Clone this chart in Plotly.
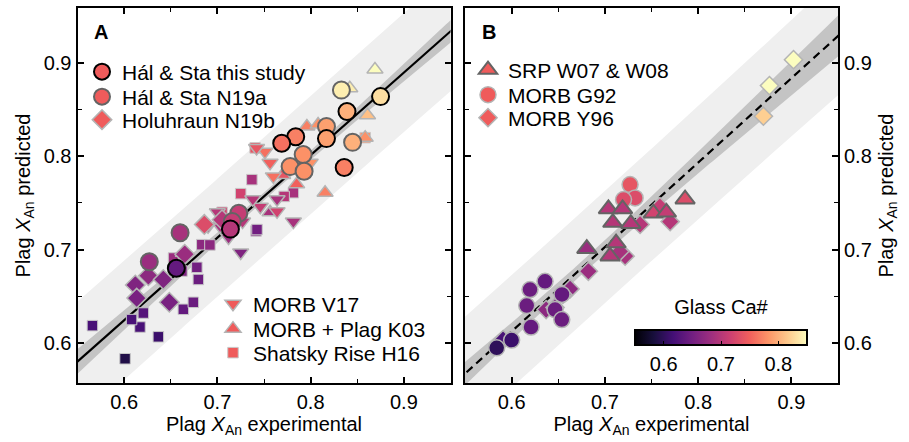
import numpy as np
import plotly.graph_objects as go

# ---------------- data ----------------
# Panel A
this_x = [0.875, 0.839, 0.817, 0.784, 0.769, 0.836, 0.714, 0.656]
this_y = [0.864, 0.848, 0.819, 0.821, 0.814, 0.788, 0.722, 0.680]
this_c = [0.83, 0.80, 0.79, 0.77, 0.76, 0.77, 0.70, 0.64]

n19a_x = [0.833, 0.817, 0.845, 0.792, 0.778, 0.793, 0.723, 0.716, 0.660, 0.627]
n19a_y = [0.871, 0.832, 0.815, 0.802, 0.789, 0.784, 0.739, 0.730, 0.718, 0.687]
n19a_c = [0.84, 0.79, 0.80, 0.78, 0.78, 0.78, 0.71, 0.71, 0.69, 0.68]

n19b_x = [0.686, 0.626, 0.612, 0.6135, 0.6485, 0.642, 0.665, 0.705]
n19b_y = [0.727, 0.672, 0.662, 0.648, 0.6435, 0.668, 0.695, 0.732]
n19b_c = [0.73, 0.67, 0.66, 0.655, 0.655, 0.66, 0.68, 0.70]

v17_x = [0.7815, 0.764, 0.746, 0.727, 0.751, 0.742, 0.7565, 0.760, 0.7995, 0.738, 0.764, 0.703, 0.725, 0.690, 0.712, 0.700]
v17_y = [0.730, 0.741, 0.746, 0.730, 0.805, 0.809, 0.793, 0.7785, 0.793, 0.754, 0.754, 0.725, 0.697, 0.725, 0.713, 0.740]
v17_c = [0.69, 0.72, 0.71, 0.70, 0.76, 0.74, 0.75, 0.76, 0.78, 0.70, 0.69, 0.69, 0.66, 0.68, 0.68, 0.70]

k03_x = [0.869, 0.842, 0.861, 0.8585, 0.8155, 0.796, 0.808, 0.7565, 0.6635, 0.770, 0.785]
k03_y = [0.893, 0.873, 0.844, 0.820, 0.761, 0.832, 0.834, 0.740, 0.6965, 0.780, 0.770]
k03_c = [0.85, 0.84, 0.81, 0.78, 0.77, 0.77, 0.78, 0.69, 0.70, 0.74, 0.75]

h16_x = [0.566, 0.601, 0.6367, 0.617, 0.6206, 0.608, 0.6635, 0.6742, 0.6796, 0.678, 0.6833, 0.692,
         0.7415, 0.653, 0.662, 0.737, 0.7405, 0.7815, 0.7716, 0.7425, 0.8585, 0.725, 0.705]
h16_y = [0.6185, 0.583, 0.6065, 0.617, 0.632, 0.625, 0.636, 0.6435, 0.668, 0.681, 0.7053, 0.705,
         0.720, 0.691, 0.677, 0.775, 0.809, 0.761, 0.757, 0.7215, 0.820, 0.760, 0.740]
h16_c = [0.62, 0.59, 0.61, 0.62, 0.63, 0.62, 0.64, 0.645, 0.645, 0.65, 0.67, 0.67,
         0.66, 0.68, 0.66, 0.69, 0.74, 0.69, 0.70, 0.65, 0.78, 0.72, 0.72]

# Panel B
srp_x = [0.786, 0.7038, 0.719, 0.752, 0.766, 0.7085, 0.7278, 0.712, 0.7055, 0.6806]
srp_y = [0.754, 0.7436, 0.7436, 0.739, 0.740, 0.729, 0.7278, 0.707, 0.693, 0.701]
srp_c = [0.73, 0.70, 0.70, 0.72, 0.71, 0.70, 0.70, 0.70, 0.70, 0.68]

g92_x = [0.727, 0.7324, 0.720, 0.6358, 0.6197, 0.6162, 0.6466, 0.6538, 0.654, 0.6208, 0.600, 0.584]
g92_y = [0.7697, 0.7554, 0.7536, 0.666, 0.6571, 0.640, 0.6357, 0.625, 0.652, 0.617, 0.603, 0.5947]
g92_c = [0.74, 0.73, 0.73, 0.64, 0.645, 0.645, 0.645, 0.645, 0.64, 0.64, 0.61, 0.60]

y96_x = [0.9023, 0.8765, 0.870, 0.759, 0.770, 0.7378, 0.7217, 0.716, 0.6823, 0.6627, 0.655, 0.637, 0.6466, 0.5908]
y96_y = [0.9036, 0.8758, 0.843, 0.746, 0.730, 0.727, 0.693, 0.698, 0.6768, 0.6579, 0.652, 0.6357, 0.638, 0.6035]
y96_c = [0.85, 0.85, 0.82, 0.71, 0.70, 0.70, 0.69, 0.69, 0.68, 0.67, 0.66, 0.67, 0.66, 0.62]

# regression fits (y at x=0.55, slope, centre, conf. band, prediction band)
REG_A = dict(y0=0.58, slope=0.885, xm=0.76, ci_a=0.004, ci_b=0.059, pi=0.063)
REG_B = dict(y0=0.567, slope=0.905, xm=0.68, ci_a=0.007, ci_b=0.077, pi=0.060)

ticks_vals = [0.6, 0.7, 0.8, 0.9]
minor_vals = [0.6, 0.65, 0.7, 0.75, 0.8, 0.85, 0.9]
cbar_vals = [0.6, 0.7, 0.8]

# ---------------- figure ----------------
FONT = "Liberation Sans, Arial, Helvetica, sans-serif"
W, H = 909, 442
PT, PB = 8, 383           # plot area top / bottom in pixels
PH = PB - PT
fig = go.Figure()

xg = np.linspace(0.5, 1.0, 201)


def py(pix):
    return (PB - pix) / PH


def add_bands(reg, xa, ya, dash):
    yc = reg['y0'] + reg['slope'] * (xg - 0.55)
    ci = np.sqrt(reg['ci_a'] ** 2 + (reg['ci_b'] * (xg - reg['xm'])) ** 2)
    pi = np.sqrt(reg['pi'] ** 2 + (reg['ci_b'] * (xg - reg['xm'])) ** 2)
    for half, col in ((pi, '#efefef'), (ci, '#c4c4c4')):
        fig.add_trace(go.Scatter(
            x=np.concatenate([xg, xg[::-1]]),
            y=np.concatenate([yc + half, (yc - half)[::-1]]),
            fill='toself', fillcolor=col, line=dict(width=0), mode='lines',
            hoverinfo='skip', showlegend=False, xaxis=xa, yaxis=ya))
    fig.add_trace(go.Scatter(x=xg, y=yc, mode='lines',
                             line=dict(color='black', width=2.2, dash=dash),
                             showlegend=False, hoverinfo='skip', xaxis=xa, yaxis=ya))


add_bands(REG_A, 'x', 'y', 'solid')
add_bands(REG_B, 'x2', 'y2', '8px,5px')

LEG_COLOR = '#ef5b5b'
LEGF = dict(size=21, color='black')
legends = {}


def add_series(x, y, c, symbol, size, lcol, lw, name, leg, lx, ly, xa, ya):
    fig.add_trace(go.Scatter(
        x=x, y=y, mode='markers', showlegend=False, xaxis=xa, yaxis=ya,
        marker=dict(symbol=symbol, size=size, color=c, coloraxis='coloraxis',
                    line=dict(color=lcol, width=lw))))
    fig.add_trace(go.Scatter(
        x=[None], y=[None], mode='markers', name=name, legend=leg,
        xaxis=xa, yaxis=ya,
        marker=dict(symbol=symbol, size=size, color=LEG_COLOR,
                    line=dict(color=lcol, width=lw))))
    legends[leg] = dict(x=lx / W, y=py(ly), xanchor='left', yanchor='middle',
                        bgcolor='rgba(0,0,0,0)', font=LEGF)


LG = '#b4b4b4'
DG = '#646464'
# Panel A
add_series(h16_x, h16_y, h16_c, 'square', 10.5, '#c8c8c8', 1, 'Shatsky Rise H16', 'legend6', 213, 353, 'x', 'y')
add_series(k03_x, k03_y, k03_c, 'triangle-up', 14, LG, 1.5, 'MORB + Plag K03', 'legend5', 213, 329, 'x', 'y')
add_series(v17_x, v17_y, v17_c, 'triangle-down', 14, LG, 1.5, 'MORB V17', 'legend4', 213, 304, 'x', 'y')
add_series(n19b_x, n19b_y, n19b_c, 'diamond', 15, LG, 1.5, 'Holuhraun N19b', 'legend3', 82, 120, 'x', 'y')
add_series(n19a_x, n19a_y, n19a_c, 'circle', 17, DG, 2, 'Hál & Sta N19a', 'legend2', 82, 97, 'x', 'y')
add_series(this_x, this_y, this_c, 'circle', 17, 'black', 2, 'Hál & Sta this study', 'legend', 82, 72, 'x', 'y')
# Panel B
add_series(y96_x, y96_y, y96_c, 'diamond', 14, LG, 1.5, 'MORB Y96', 'legend9', 468, 118, 'x2', 'y2')
add_series(g92_x, g92_y, g92_c, 'circle', 16, LG, 1.5, 'MORB G92', 'legend8', 468, 95, 'x2', 'y2')
add_series(srp_x, srp_y, srp_c, 'triangle-up', 17, DG, 2, 'SRP W07 & W08', 'legend7', 468, 70, 'x2', 'y2')

ax_common = dict(
    range=[0.55, 0.95], tickvals=ticks_vals, tickformat='.1f',
    ticks='inside', ticklen=6, tickwidth=1.5, tickcolor='black',
    minor=dict(tickvals=minor_vals, ticks='inside', ticklen=4,
               tickwidth=1.2, tickcolor='black'),
    showline=True, linewidth=2, linecolor='black', mirror='ticks',
    showgrid=False, zeroline=False, tickfont=dict(size=20, color='black'),
)
ay_common = dict(ax_common)
ay_common['range'] = [0.557, 0.959]

xt = dict(text='Plag <i>X</i><sub>An</sub> experimental', font=dict(size=20, color='black'), standoff=4)
yt = dict(text='Plag <i>X</i><sub>An</sub> predicted', font=dict(size=20, color='black'), standoff=8)

fig.update_layout(
    width=W, height=H, margin=dict(l=0, r=0, t=PT, b=H - PB),
    paper_bgcolor='white', plot_bgcolor='white',
    font=dict(family=FONT, size=20, color='black'),
    xaxis=dict(ax_common, domain=[77.5 / W, 450.5 / W], title=xt),
    yaxis=dict(ay_common, title=yt),
    xaxis2=dict(ax_common, domain=[465 / W, 838 / W], anchor='y2', title=xt),
    yaxis2=dict(ay_common, anchor='x2', side='right', title=yt),
    coloraxis=dict(
        colorscale='magma', cmin=0.55, cmax=0.85,
        colorbar=dict(orientation='h', x=721 / W, xanchor='center', y=py(381),
                      yanchor='bottom', len=172, lenmode='pixels', thickness=15,
                      outlinewidth=2, outlinecolor='black', ticks='inside', ticklen=5,
                      tickcolor='black', tickvals=cbar_vals, tickformat='.1f',
                      tickfont=dict(size=20), xpad=0, ypad=0,
                      title=dict(text='Glass Ca#', side='top', font=dict(size=20)))),
    annotations=[
        dict(text='<b>A</b>', x=101 / W, y=py(32), xref='paper', yref='paper',
             xanchor='center', yanchor='middle', showarrow=False, font=dict(size=20)),
        dict(text='<b>B</b>', x=489 / W, y=py(32), xref='paper', yref='paper',
             xanchor='center', yanchor='middle', showarrow=False, font=dict(size=20)),
    ],
)
fig.update_layout(**legends)

fig.write_html("out.html")
